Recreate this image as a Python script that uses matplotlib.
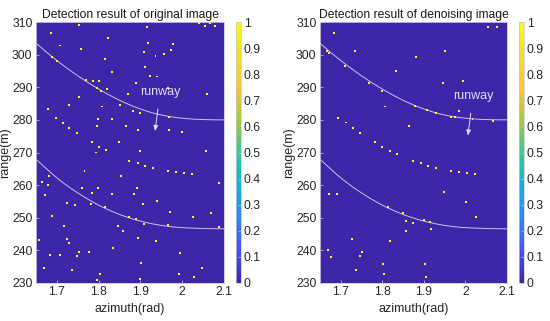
import numpy as np
import matplotlib
matplotlib.use("Agg")
import matplotlib.pyplot as plt
from matplotlib.colors import LinearSegmentedColormap

plt.rcParams['font.family'] = ['Liberation Sans', 'DejaVu Sans']

# ---------------- data ----------------
x_ticks = [1.7, 1.8, 1.9, 2.0, 2.1]
x_ticklabels = ['1.7', '1.8', '1.9', '2', '2.1']
y_ticks = [230, 240, 250, 260, 270, 280, 290, 300, 310]
cb_ticks = [0, 0.1, 0.2, 0.3, 0.4, 0.5, 0.6, 0.7, 0.8, 0.9, 1]
cb_ticklabels = ['0', '0.1', '0.2', '0.3', '0.4', '0.5', '0.6', '0.7', '0.8', '0.9', '1']

titles = ['Detection result of original image', 'Detection result of denoising image']

# runway boundary curves (azimuth, range)
upper_az = [1.65, 1.67, 1.69, 1.71, 1.73, 1.75, 1.77, 1.79, 1.81, 1.83, 1.85, 1.87, 1.89,
            1.91, 1.93, 1.95, 1.97, 1.99, 2.01, 2.03, 2.05, 2.075, 2.1]
upper_rg = [303.5, 301.3, 299.2, 297.2, 295.3, 293.5, 291.8, 290.2, 288.7, 287.3, 286.0,
            284.85, 283.8, 282.9, 282.1, 281.5, 281.0, 280.65, 280.4, 280.2, 280.1, 280.03, 280.0]
lower_az = [1.652, 1.67, 1.69, 1.71, 1.73, 1.75, 1.77, 1.79, 1.81, 1.83, 1.85, 1.87, 1.89,
            1.91, 1.93, 1.95, 1.97, 1.99, 2.01, 2.03, 2.05, 2.075, 2.1]
lower_rg = [267.7, 265.6, 263.3, 261.2, 259.3, 257.6, 256.0, 254.55, 253.2, 252.05, 251.0,
            250.1, 249.3, 248.65, 248.1, 247.65, 247.3, 247.05, 246.9, 246.8, 246.7, 246.65, 246.6]

# annotation (text pos, arrow head)
ann_text = [(1.947, 288.6), (2.018, 287.3)]
ann_head = [(1.935, 276.6), (2.006, 275.2)]

# detections, original image
orig_az = [1.686, 1.753, 1.707, 1.757, 1.822, 1.816, 1.915, 1.917, 1.909, 1.936, 1.957, 1.977,
           1.972, 2.04, 2.055, 2.066, 2.078, 1.832, 1.912, 1.923, 1.939, 1.889, 1.786, 1.80,
           1.821, 1.753, 1.871, 1.967, 2.06, 1.729, 1.808, 1.679, 1.698, 1.714, 1.730, 1.749,
           1.798, 1.833, 1.797, 1.865, 1.893, 1.969, 2.0, 1.783, 1.801, 1.818, 1.793, 1.849,
           1.899, 2.057, 1.968, 1.688, 1.700, 1.770, 1.795, 1.805, 1.852, 1.882, 1.900,
           1.873, 1.893, 1.91, 1.929, 1.967, 1.985, 2.005, 2.024, 1.766, 1.68, 1.664, 1.678,
           1.853, 1.671, 1.759, 1.785, 1.798, 1.833, 1.885, 1.891, 1.94, 2.089, 1.723, 1.743,
           1.781, 1.905, 1.815, 1.971, 1.688, 1.873, 1.889, 1.909, 2.025, 2.069, 2.087, 1.965,
           1.717, 1.846, 1.858, 1.658, 1.724, 1.73, 1.895, 1.937, 1.834, 1.754, 1.777, 1.684,
           1.707, 1.749, 1.995, 1.67, 1.737, 2.047, 1.803, 1.993, 2.028, 1.795, 1.90, 1.901]
orig_rg = [306.7, 309.1, 302.8, 301.6, 305.2, 298.7, 308.6, 303.7, 300.9, 299.6, 300.1, 303.2,
           301.4, 309.6, 308.8, 309.6, 308.8, 294.8, 296.3, 293.5, 293.3, 291.2, 292.0, 291.9,
           289.4, 287.1, 288.0, 289.9, 287.9, 284.6, 284.1, 283.3, 280.7, 279.0, 277.4, 275.9,
           280.4, 280.3, 278.0, 278.2, 276.9, 276.9, 276.3, 273.1, 271.8, 270.7, 270.0, 273.1,
           270.5, 270.5, 280.8, 299.2, 298.0, 292.2, 289.8, 289.0, 284.7, 282.7, 282.2,
           267.5, 266.7, 265.9, 265.3, 264.3, 263.9, 263.6, 263.4, 264.4, 262.8, 261.0, 260.0,
           262.8, 257.1, 259.2, 257.7, 259.2, 257.4, 257.4, 259.0, 255.1, 260.7, 254.6, 253.9,
           254.1, 254.1, 253.3, 251.8, 250.6, 250.3, 249.6, 248.0, 250.3, 251.6, 247.2, 247.7,
           247.4, 247.4, 246.0, 243.3, 243.4, 242.4, 243.8, 242.9, 240.8, 239.5, 239.5, 238.7,
           238.7, 238.2, 239.3, 234.6, 233.9, 234.6, 232.7, 232.7, 231.9, 231.0, 231.1, 236.0]
orig_val = [1.0] * len(orig_az)

# detections, denoising image
den_az = [1.684, 1.734, 1.832, 1.882, 1.95, 1.946, 1.994, 2.054, 2.077, 1.806, 1.865, 1.985,
          1.694, 1.712, 1.729, 1.747, 1.782, 1.8, 1.818, 1.836, 2.066, 2.017, 1.667, 1.672,
          1.710, 1.768, 1.800, 1.878, 1.908, 1.930, 1.966, 1.976,
          1.873, 1.892, 1.909, 1.929, 1.966, 1.985, 2.004, 2.022, 1.672, 1.691, 1.948, 2.002,
          1.814, 1.85, 1.858, 1.873, 1.858, 1.914, 1.917, 1.9, 2.026, 1.728, 1.818, 1.67,
          1.676, 1.75, 1.746, 1.736, 1.802, 1.803, 1.902, 1.905]
den_rg = [306.7, 301.2, 294.9, 299.4, 301.2, 291.2, 291.9, 308.6, 308.6, 284.1, 278.2, 282.6,
          280.7, 279.2, 277.4, 275.9, 273.1, 271.8, 270.6, 269.5, 279.8, 280.3, 301.2, 300.4,
          296.6, 291.4, 289.0, 284.2, 283.0, 282.0, 280.8, 280.8,
          267.5, 266.7, 265.9, 265.3, 264.3, 263.9, 263.6, 263.4, 257.2, 257.2, 257.9, 254.7,
          253.3, 251.5, 248.9, 248.4, 246.0, 248.7, 246.5, 249.3, 250.3, 243.4, 242.9, 240.0,
          238.0, 239.5, 238.2, 234.1, 235.9, 232.9, 235.9, 231.9]
den_val = [1.0] * len(den_az)

# ---------------- parula-like colormap ----------------
parula_pts = [
    (0.000, (0.2422, 0.1504, 0.6603)),
    (0.125, (0.2810, 0.3228, 0.9579)),
    (0.250, (0.1786, 0.5289, 0.9682)),
    (0.375, (0.0689, 0.6948, 0.8394)),
    (0.500, (0.2161, 0.7843, 0.5923)),
    (0.625, (0.6720, 0.7793, 0.2227)),
    (0.750, (0.9970, 0.7659, 0.2199)),
    (0.875, (0.9500, 0.8700, 0.1500)),
    (1.000, (0.9769, 0.9839, 0.0805)),
]
parula = LinearSegmentedColormap.from_list('parula', parula_pts)

# ---------------- figure ----------------
fig = plt.figure(figsize=(5.5, 3.21), dpi=100)
ax_pos = [[0.0655, 0.1184, 0.3418, 0.813], [0.5818, 0.1184, 0.340, 0.813]]
cb_pos = [[0.429, 0.1184, 0.0095, 0.813], [0.9436, 0.1184, 0.0095, 0.813]]
datasets = [(orig_az, orig_rg, orig_val), (den_az, den_rg, den_val)]
line_col = (0.88, 0.86, 0.98)
txt_col = '#262626'

for i in range(2):
    ax = fig.add_axes(ax_pos[i])
    ax.set_facecolor(parula(0.0))
    az, rg, val = datasets[i]
    sc = ax.scatter(az, rg, c=val, cmap=parula, vmin=0, vmax=1, marker='s', s=2.0,
                    linewidths=0, zorder=3)
    ax.plot(upper_az, upper_rg, color=line_col, lw=0.7, alpha=0.85, zorder=2)
    ax.plot(lower_az, lower_rg, color=line_col, lw=0.7, alpha=0.85, zorder=2)
    ax.annotate('runway', xy=ann_head[i], xytext=ann_text[i], color=line_col,
                fontsize=9, ha='center', va='center', zorder=4,
                arrowprops=dict(arrowstyle='-|>,head_length=0.35,head_width=0.15',
                                color=line_col, lw=0.7, shrinkA=6, shrinkB=0))
    ax.set_xlim(1.65, 2.1)
    ax.set_ylim(230, 310)
    ax.set_xticks(x_ticks)
    ax.set_xticklabels(x_ticklabels)
    ax.set_yticks(y_ticks)
    ax.tick_params(direction='in', length=2, width=0.5, color='#c8c8e0',
                   labelsize=8.8, pad=2.5, labelcolor=txt_col)
    for s in ax.spines.values():
        s.set_color('#c8c8e0')
        s.set_linewidth(0.6)
    ax.set_xlabel('azimuth(rad)', fontsize=9, labelpad=3, color=txt_col)
    ax.set_ylabel('range(m)', fontsize=9, labelpad=0.5, color=txt_col)
    ax.set_title(titles[i], fontsize=8.7, pad=3, color='#1a1a1a')

    cax = fig.add_axes(cb_pos[i])
    cb = fig.colorbar(sc, cax=cax, ticks=cb_ticks)
    cb.ax.set_yticklabels(cb_ticklabels)
    cb.ax.tick_params(labelsize=8.8, length=2, width=0.5, direction='in',
                      color='#c8c8c8', pad=2, labelcolor=txt_col)
    cb.outline.set_edgecolor('#c8c8c8')
    cb.outline.set_linewidth(0.5)

fig.savefig('out.png', dpi=100)
